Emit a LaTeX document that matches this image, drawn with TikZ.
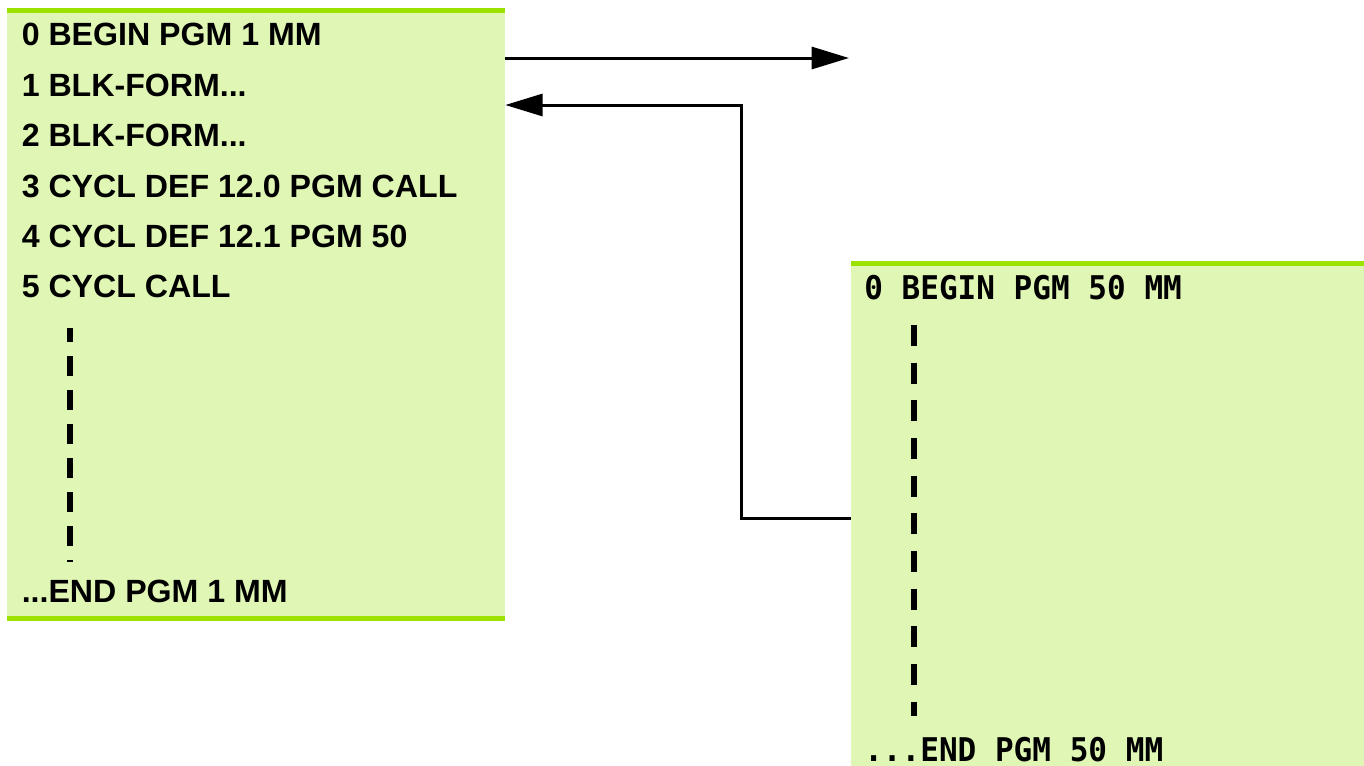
\documentclass[tikz,border=0pt]{standalone}
\usepackage{fontspec}
\usepackage{tikz}
\usetikzlibrary{arrows.meta,fit}
\newfontfamily\pgmsans{Liberation Sans}
\newfontfamily\pgmmono{DejaVu Sans Mono}[FakeStretch=0.95]
\definecolor{listfill}{HTML}{DFF6B4}
\definecolor{listgreen}{HTML}{9BE200}

\begin{document}
\begin{tikzpicture}[x=0.75pt,y=-0.75pt,
  listbox/.style={fill=listfill,inner sep=0pt},
  rim/.style={draw=listgreen,line width=3.75pt},
  sansline/.style={anchor=base west,inner sep=0pt,font=\pgmsans\bfseries\fontsize{24.1pt}{29pt}\selectfont},
  monoline/.style={anchor=base west,inner sep=0pt,font=\pgmmono\bfseries\fontsize{24.5pt}{29pt}\selectfont},
  skipline/.style={line width=4.5pt},
  flow/.style={line width=2.25pt,-{Triangle[length=28pt,width=16.5pt]}}]
\useasboundingbox (0,0) rectangle (1364,765);
% calling program
\node[listbox,fit={(7,10.5) (505,618.5)}] (pgmone) {};
\draw[rim] (pgmone.north west) -- (pgmone.north east);
\draw[rim] (pgmone.south west) -- (pgmone.south east);
\node[sansline] (one0) at (21.5,45.7) {0 BEGIN PGM 1 MM};
\node[sansline] (one1) at (21.5,96.1) {1 BLK-FORM...};
\node[sansline] (one2) at (21.5,146.5) {2 BLK-FORM...};
\node[sansline] (one3) at (21.5,197) {3 CYCL DEF 12.0 PGM CALL};
\node[sansline] (one4) at (21.5,247.4) {4 CYCL DEF 12.1 PGM 50};
\node[sansline] (one5) at (21.5,297.8) {5 CYCL CALL};
\node[sansline] (oneend) at (21.5,602.7) {...END PGM 1 MM};
\draw[skipline,dash pattern=on 15pt off 10.5pt,dash phase=4.5pt] (70,328) -- (70,562);
% called program
\node[listbox,fit={(851,263.5) (1370,773)}] (pgmfifty) {};
\draw[rim] (pgmfifty.north west) -- (pgmfifty.north east);
\node[monoline] (fifty0) at (864,299) {0 BEGIN PGM 50 MM};
\node[monoline] (fiftyend) at (864,761) {...END PGM 50 MM};
\draw[skipline,dash pattern=on 15.75pt off 12.5pt] (914,325) -- (914,716);
% call and return
\coordinate (callend) at (849,58);
\coordinate (retknee) at (741,105);
\draw[flow] (pgmone.east |- callend) -- (callend);
\draw[flow] (pgmfifty.west) -| (retknee) -- (pgmone.east |- retknee);
\end{tikzpicture}
\end{document}
